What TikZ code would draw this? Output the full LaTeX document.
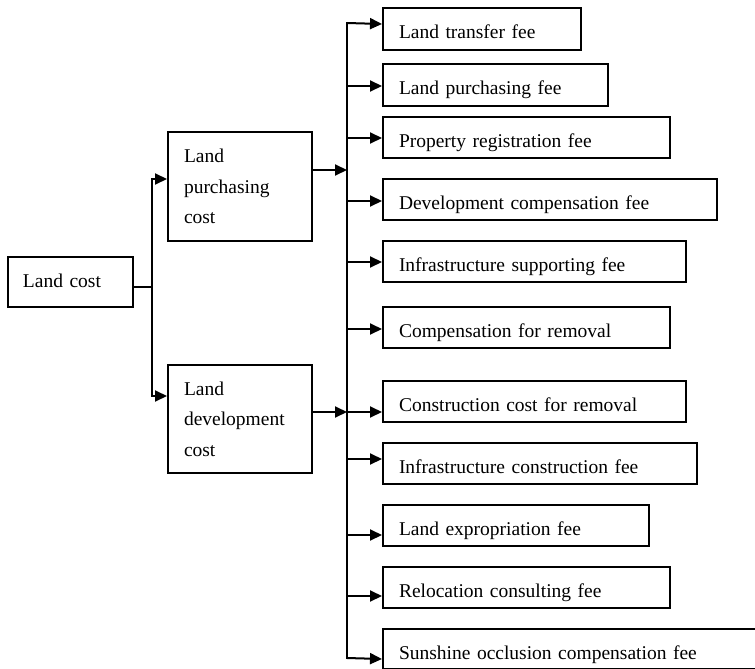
\documentclass[tikz,border=0pt]{standalone}
\usepackage{fontspec}
\setmainfont{Liberation Serif}
\usetikzlibrary{arrows.meta}

\begin{document}
\begin{tikzpicture}[x=1pt, y=-1pt,
  box/.style={draw, line width=2pt, anchor=north west, inner xsep=16pt,
    inner ysep=0pt, align=left, font=\fontsize{19.5}{30.5}\selectfont},
  leaf/.style={box, minimum height=41pt, text height=20pt, text depth=0pt},
  conn/.style={line width=2pt},
  arr/.style={conn, -{Triangle[length=12pt, width=11pt]}}]
\clip (0,0) rectangle (755,669);

% root and the two cost groups
\node[box, inner xsep=15pt, text width=95pt, minimum height=50pt,
      text height=14pt, text depth=4pt] (lc) at (7,256) {Land cost};
\node[box, text width=112pt, minimum height=109pt] (lp) at (167,131) {Land\\purchasing\\cost};
\node[box, text width=112pt, minimum height=108pt] (ld) at (167,364) {Land\\development\\cost};

% fee items
\node[leaf, minimum height=42pt, text width=166pt] (b1)  at (382,7)   {Land transfer fee};
\node[leaf, minimum height=42pt, text width=193pt] (b2)  at (382,63)  {Land purchasing fee};
\node[leaf, text width=255pt] (b3)  at (382,116) {Property registration fee};
\node[leaf, text width=302pt] (b4)  at (382,178) {Development compensation fee};
\node[leaf, text width=271pt] (b5)  at (382,240) {Infrastructure supporting fee};
\node[leaf, text width=255pt] (b6)  at (382,306) {Compensation for removal};
\node[leaf, text width=271pt] (b7)  at (382,380) {Construction cost for removal};
\node[leaf, text width=282pt] (b8)  at (382,442) {Infrastructure construction fee};
\node[leaf, text width=234pt] (b9)  at (382,504) {Land expropriation fee};
\node[leaf, text width=255pt] (b10) at (382,566) {Relocation consulting fee};
\node[leaf, minimum height=40pt, text width=360pt] (b11) at (382,628) {Sunshine occlusion compensation fee};

% left branching
\draw[conn] ([yshift=-5pt]lc.east) -- ++(18,0) coordinate (lj);
\draw[arr] (lj) |- ([yshift=7.5pt]lp.west);
\draw[arr] (lj) |- ([yshift=23pt]ld.west);

% vertical bus
\coordinate (bt) at (347,23);
\coordinate (bb) at (347,658);
\draw[conn, line cap=rect] (bt) -- (bb);

% groups into the bus
\draw[arr] ([yshift=16.5pt]lp.east) -- ([yshift=16.5pt]lp.east -| bt);
\draw[arr] ([yshift=7pt]ld.east) -- ([yshift=7pt]ld.east -| bt);

% bus out to the fee items
\draw[arr] (bt) -- ([yshift=5pt]b1.west);
\draw[arr] ([yshift=-1pt]b2.west -| bt) -- ([yshift=-1pt]b2.west);
\draw[arr] ([yshift=-0.5pt]b3.west -| bt) -- ([yshift=-0.5pt]b3.west);
\draw[arr] ([yshift=-1.5pt]b4.west -| bt) -- ([yshift=-1.5pt]b4.west);
\draw[arr] ([yshift=-0.5pt]b5.west -| bt) -- ([yshift=-0.5pt]b5.west);
\draw[arr] ([yshift=-1.5pt]b6.west -| bt) -- ([yshift=-1.5pt]b6.west);
\draw[arr] ([yshift=-10.5pt]b7.west -| bt) -- ([yshift=-10.5pt]b7.west);
\draw[arr] ([yshift=4.5pt]b8.west -| bt) -- ([yshift=4.5pt]b8.west);
\draw[arr] ([yshift=-9.5pt]b9.west -| bt) -- ([yshift=-9.5pt]b9.west);
\draw[arr] ([yshift=-8.5pt]b10.west -| bt) -- ([yshift=-8.5pt]b10.west);
\draw[arr] (bb) -- ([yshift=-10pt]b11.west);
\end{tikzpicture}
\end{document}
